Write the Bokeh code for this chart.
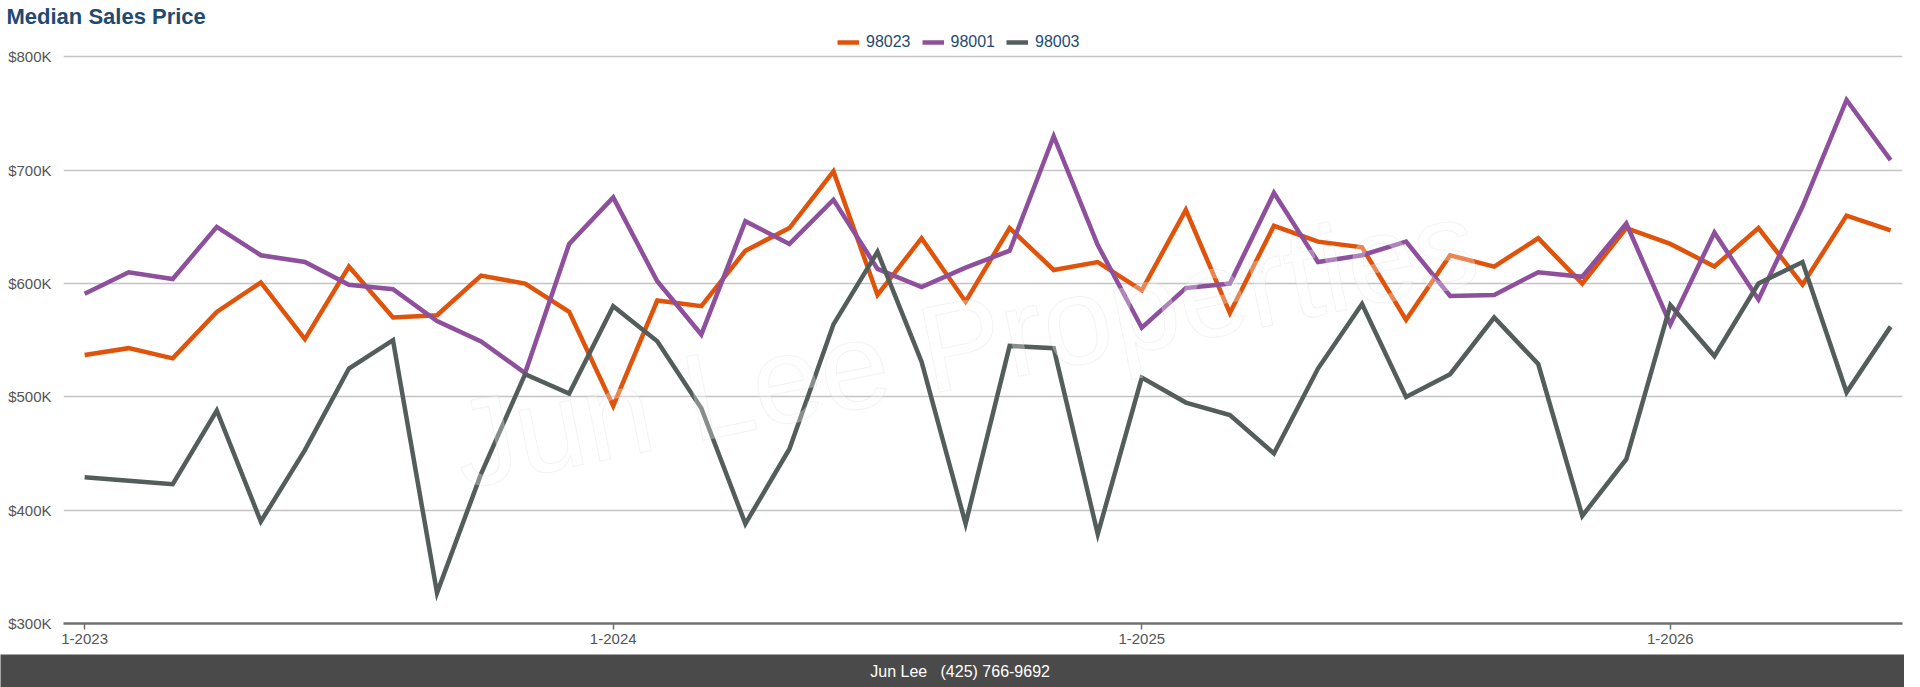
from bokeh.plotting import figure
from bokeh.models import (ColumnDataSource, FixedTicker, Legend, LegendItem, Title,
                          Label, Range1d)
from bokeh.layouts import column, row
from bokeh.embed import file_html
from bokeh.resources import INLINE
from bokeh.core.properties import value

# ---------------- data ----------------
months = [
    "1-2023", "2-2023", "3-2023", "4-2023", "5-2023", "6-2023", "7-2023", "8-2023",
    "9-2023", "10-2023", "11-2023", "12-2023",
    "1-2024", "2-2024", "3-2024", "4-2024", "5-2024", "6-2024", "7-2024", "8-2024",
    "9-2024", "10-2024", "11-2024", "12-2024",
    "1-2025", "2-2025", "3-2025", "4-2025", "5-2025", "6-2025", "7-2025", "8-2025",
    "9-2025", "10-2025", "11-2025", "12-2025",
    "1-2026", "2-2026", "3-2026", "4-2026", "5-2026", "6-2026",
]

price_98023 = [
    537000, 543000, 534000, 575000, 601000, 551000, 615000, 570000, 572000, 607000,
    600000, 575000, 492000, 585000, 580000, 629000, 649000, 699000, 590000, 640000,
    584000, 649000, 612000, 619000, 594000, 665000, 574000, 651000, 637000, 632000,
    568000, 625000, 615000, 640000, 600000, 649000, 635000, 615000, 649000, 599000,
    660000, 647000,
]
price_98001 = [
    591000, 610000, 604000, 650000, 625000, 619000, 599000, 595000, 567000, 549000,
    521000, 635000, 676000, 602000, 555000, 655000, 635000, 674000, 613000, 597000,
    614000, 629000, 730000, 634000, 561000, 596000, 600000, 680000, 619000, 625000,
    637000, 589000, 590000, 610000, 606000, 653000, 564000, 645000, 586000, 668000,
    762000, 709000,
]
price_98003 = [
    429000, 426000, 423000, 488000, 390000, 453000, 525000, 550000, 327000, 432000,
    520000, 503000, 580000, 549000, 490000, 388000, 454000, 564000, 628000, 531000,
    388000, 545000, 543000, 379000, 517000, 495000, 484000, 450000, 525000, 582000,
    500000, 520000, 570000, 529000, 395000, 445000, 581000, 536000, 600000, 619000,
    504000, 562000,
]

series_names = ["98023", "98001", "98003"]
series_values = [price_98023, price_98001, price_98003]
series_colors = ["#DF530B", "#8E4F9D", "#535D5B"]

y_ticks = [300000, 400000, 500000, 600000, 700000, 800000]
y_tick_labels = ["$300K", "$400K", "$500K", "$600K", "$700K", "$800K"]
x_tick_labels = ["1-2023", "1-2024", "1-2025", "1-2026"]

title_text = "Median Sales Price"
footer_text = "Jun Lee \u00a0\u00a0(425) 766-9692"
watermark_text = "Jun Lee Properties"

# ---------------- styling ----------------
FONT = "Liberation Sans"
TITLE_BLUE = "#1F4A72"
LABEL_GREY = "#555555"
FOOTER_GREY = "#4a4a4a"

x_idx = list(range(len(months)))
x_tick_idx = [months.index(m) for m in x_tick_labels]

p = figure(width=1904, height=654,
           x_range=Range1d(-0.48, 41.27), y_range=Range1d(300000, 825100),
           toolbar_location=None, output_backend="svg", title=None,
           min_border_left=63, min_border_right=2, min_border_top=28,
           min_border_bottom=31)
p.background_fill_color = "white"
p.border_fill_color = "white"
p.outline_line_color = None

# axes
p.yaxis.ticker = FixedTicker(ticks=y_ticks, minor_ticks=[])
p.yaxis.major_label_overrides = {t: l for t, l in zip(y_ticks, y_tick_labels)}
p.yaxis.axis_line_color = None
p.yaxis.major_tick_line_color = None
p.yaxis.major_tick_out = 0
p.yaxis.major_tick_in = 0
p.yaxis.minor_tick_line_color = None
p.yaxis.major_label_standoff = 12
p.yaxis.major_label_text_font = FONT
p.yaxis.major_label_text_font_size = "15px"
p.yaxis.major_label_text_color = LABEL_GREY

p.xaxis.ticker = FixedTicker(ticks=x_tick_idx, minor_ticks=[])
p.xaxis.major_label_overrides = {i: l for i, l in zip(x_tick_idx, x_tick_labels)}
p.xaxis.axis_line_color = "#707070"
p.xaxis.axis_line_width = 2.5
p.xaxis.major_tick_line_color = "#707070"
p.xaxis.major_tick_line_width = 1.5
p.xaxis.major_tick_out = 6
p.xaxis.major_tick_in = 0
p.xaxis.minor_tick_line_color = None
p.xaxis.major_label_standoff = 4
p.xaxis.major_label_text_font = FONT
p.xaxis.major_label_text_font_size = "15px"
p.xaxis.major_label_text_color = LABEL_GREY

p.xgrid.grid_line_color = None
p.ygrid.grid_line_color = "#c4c4c4"
p.ygrid.grid_line_width = 1.3

# lines
renderers = []
for name, vals, col in zip(series_names, series_values, series_colors):
    src = ColumnDataSource(dict(x=x_idx, v=vals))
    r = p.line("x", "v", source=src, line_width=4.5, line_color=col, line_join="miter")
    renderers.append((name, r))

# watermark (faint, above lines)
p.text(x=[8.4], y=[456000], text=[watermark_text], angle=0.2,
       text_font=value(FONT), text_font_size="124px", text_color="white",
       text_alpha=0.3, text_outline_color="#d6d6d6",
       text_align="left", text_baseline="alphabetic", level="overlay")

# legend near the top, centred over the plot
legend = Legend(items=[LegendItem(label=n, renderers=[r]) for n, r in renderers],
                orientation="horizontal", location=(774, 572),
                label_text_font=FONT, label_text_font_size="16px",
                label_text_color=TITLE_BLUE, glyph_width=22, glyph_height=16,
                label_height=16, label_standoff=7, spacing=11, padding=2, margin=0,
                border_line_color=None, background_fill_alpha=0)
p.add_layout(legend, "center")

title = Title(text=title_text, align="left", text_font=FONT, text_font_size="22px",
              text_font_style="bold", text_color=TITLE_BLUE, offset=-57, standoff=0)
p.add_layout(title, "above")

# footer bar
foot = figure(width=1904, height=33, x_range=Range1d(0, 1), y_range=Range1d(0, 1),
              toolbar_location=None, output_backend="svg", title=None,
              x_axis_type=None, y_axis_type=None, min_border=0,
              min_border_left=0, min_border_right=0, min_border_top=0,
              min_border_bottom=0)
foot.background_fill_color = FOOTER_GREY
foot.border_fill_color = FOOTER_GREY
foot.outline_line_color = None
foot.add_layout(Label(x=0.504, y=0.5, text=footer_text, text_align="center",
                      text_baseline="middle", text_color="white", text_font=FONT,
                      text_font_size="16px"))

layout = column(p, row(foot, spacing=0), spacing=0)
open("out.html", "w").write(file_html(layout, INLINE))
